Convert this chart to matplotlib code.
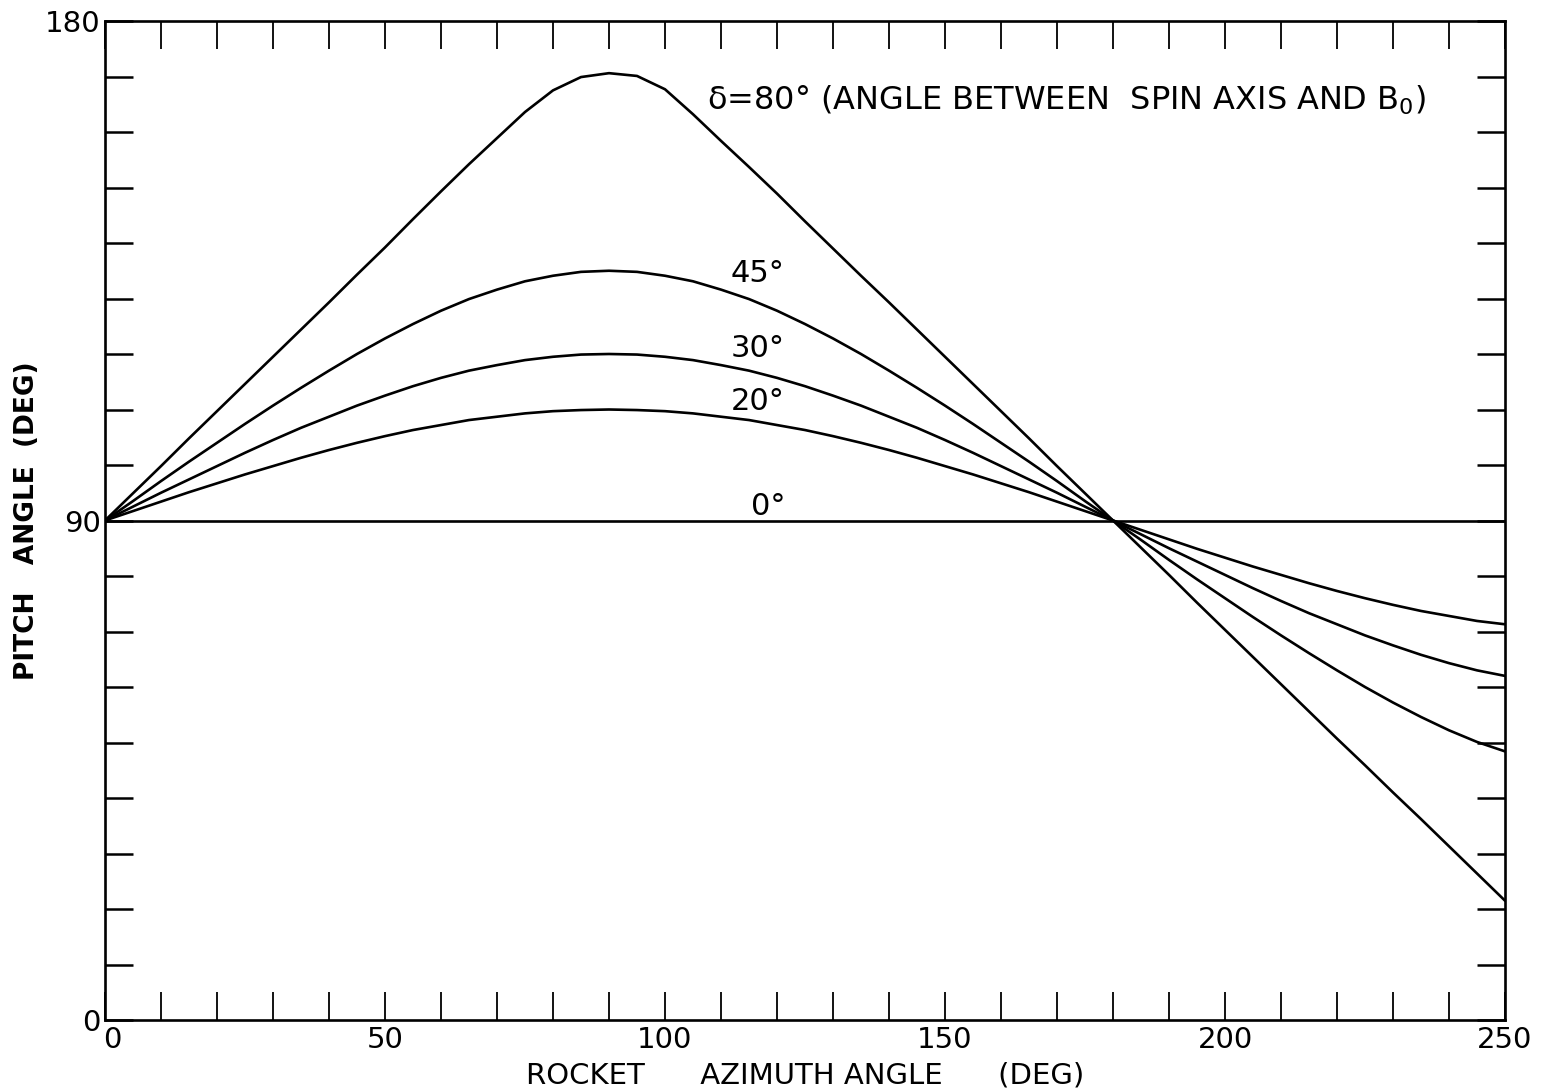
import matplotlib
matplotlib.use("Agg")
import matplotlib.pyplot as plt
import matplotlib.transforms as mtransforms
from matplotlib.ticker import FixedLocator, FuncFormatter

plt.rcParams['font.family'] = ['DejaVu Sans']

# Rocket azimuth angle (deg)
azimuth = [0, 5, 10, 15, 20, 25, 30, 35, 40, 45, 50, 55, 60, 65, 70, 75, 80, 85, 90,
           95, 100, 105, 110, 115, 120, 125, 130, 135, 140, 145, 150, 155, 160, 165,
           170, 175, 180, 185, 190, 195, 200, 205, 210, 215, 220, 225, 230, 235, 240,
           245, 250]

# Pitch angle (deg) for each delta
pitch_0 = [90.0] * 51
pitch_20 = [90.0, 91.7, 93.4, 95.1, 96.7, 98.3, 99.8, 101.3, 102.7, 104.0, 105.2, 106.3,
            107.2, 108.1, 108.7, 109.3, 109.7, 109.9, 110.0, 109.9, 109.7, 109.3, 108.7,
            108.1, 107.2, 106.3, 105.2, 104.0, 102.7, 101.3, 99.8, 98.3, 96.7, 95.1,
            93.4, 91.7, 90.0, 88.3, 86.6, 84.9, 83.3, 81.7, 80.2, 78.7, 77.3, 76.0,
            74.8, 73.7, 72.8, 71.9, 71.3]
pitch_30 = [90.0, 92.5, 95.0, 97.4, 99.8, 102.2, 104.5, 106.7, 108.7, 110.7, 112.5, 114.2,
            115.7, 117.0, 118.0, 118.9, 119.5, 119.9, 120.0, 119.9, 119.5, 118.9, 118.0,
            117.0, 115.7, 114.2, 112.5, 110.7, 108.7, 106.7, 104.5, 102.2, 99.8, 97.4,
            95.0, 92.5, 90.0, 87.5, 85.0, 82.6, 80.2, 77.8, 75.5, 73.3, 71.3, 69.3,
            67.5, 65.8, 64.3, 63.0, 62.0]
pitch_45 = [90.0, 93.5, 97.1, 100.6, 104.0, 107.4, 110.7, 113.9, 117.0, 120.0, 122.8, 125.4,
            127.8, 129.9, 131.6, 133.1, 134.1, 134.8, 135.0, 134.8, 134.1, 133.1, 131.6,
            129.9, 127.8, 125.4, 122.8, 120.0, 117.0, 113.9, 110.7, 107.4, 104.0, 100.6,
            97.1, 93.5, 90.0, 86.5, 82.9, 79.4, 76.0, 72.6, 69.3, 66.1, 63.0, 60.0,
            57.2, 54.6, 52.2, 50.1, 48.4]
pitch_80 = [90.0, 94.9, 99.8, 104.8, 109.7, 114.6, 119.5, 124.4, 129.3, 134.3, 139.2, 144.3,
            149.3, 154.2, 158.9, 163.6, 167.5, 169.9, 170.6, 170.1, 167.7, 163.2, 158.4,
            153.7, 148.9, 143.9, 139.0, 134.1, 129.3, 124.4, 119.5, 114.6, 109.7, 104.8,
            99.8, 94.9, 90.0, 85.1, 80.2, 75.2, 70.3, 65.4, 60.5, 55.6, 50.7, 45.9,
            41.0, 36.2, 31.3, 26.4, 21.5]

curve_labels = ['0°', '20°', '30°', '45°']
label_x = [118.5, 116.6, 116.6, 116.6]
label_y = [92.6, 111.5, 121.0, 134.5]

x_tick_labels = [0, 50, 100, 150, 200, 250]
y_tick_labels = [0, 90, 180]

fig = plt.figure(figsize=(15.43, 10.91), dpi=100)
ax = fig.add_axes([105 / 1543, 71 / 1091, 1400 / 1543, 999 / 1091])

for ys in [pitch_0, pitch_20, pitch_30, pitch_45, pitch_80]:
    ax.plot(azimuth, ys, color='black', lw=1.9, solid_capstyle='round',
            solid_joinstyle='round')

ax.set_xlim(0, 250)
ax.set_ylim(0, 180)

ax.xaxis.set_major_locator(FixedLocator(list(range(0, 251, 10))))
ax.yaxis.set_major_locator(FixedLocator(list(range(0, 181, 10))))
ax.xaxis.set_major_formatter(FuncFormatter(lambda v, p: f"{int(round(v))}" if int(round(v)) in x_tick_labels else ""))
ax.yaxis.set_major_formatter(FuncFormatter(lambda v, p: f"{int(round(v))}" if int(round(v)) in y_tick_labels else ""))

ax.tick_params(axis='x', direction='in', length=20, width=1.3, top=True, bottom=True,
               labelsize=21, pad=4)
ax.tick_params(axis='y', direction='in', length=20, width=1.8, left=True, right=True,
               labelsize=21, pad=3)

# nudge the x "0" label right so it clears the y "0" label
lab0 = ax.xaxis.get_major_ticks()[0].label1
lab0.set_transform(lab0.get_transform() +
                   mtransforms.ScaledTranslation(7 / 100, 0, fig.dpi_scale_trans))

for s in ax.spines.values():
    s.set_linewidth(1.9)
    s.set_color('black')

ax.set_xlabel("ROCKET      AZIMUTH ANGLE      (DEG)", fontsize=21, labelpad=6)
ax.set_ylabel("PITCH   ANGLE  (DEG)", fontsize=19, fontweight='bold', labelpad=4)

for t, xx, yy in zip(curve_labels, label_x, label_y):
    ax.text(xx, yy, t, fontsize=22, ha='center', va='center')

ax.text(107.5, 165.8, r"δ=80° (ANGLE BETWEEN  SPIN AXIS AND B$_\mathregular{0}$)",
        fontsize=23, ha='left', va='center')

fig.savefig("out.png", dpi=100, facecolor='white')
